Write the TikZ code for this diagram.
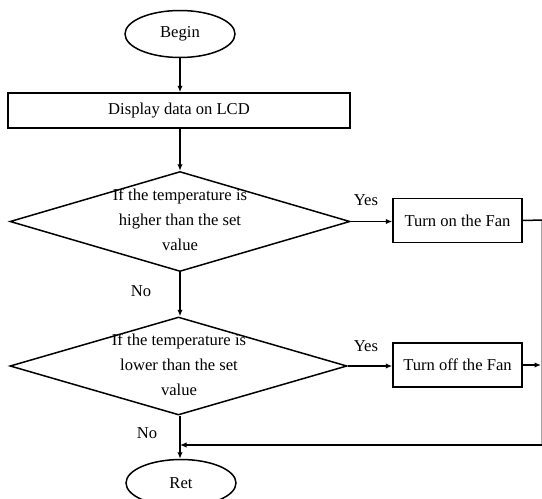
\documentclass[tikz,border=0pt]{standalone}
\usepackage{fontspec}
\setmainfont{Liberation Serif}
\usetikzlibrary{shapes.geometric,arrows.meta}
\begin{document}
\begin{tikzpicture}[x=1pt,y=-1pt,
  every node/.style={font=\fontsize{16.6}{25}\selectfont},
  line/.style={line width=1.5pt},
  arr/.style={line width=1.5pt,-{Latex[length=6.5pt,width=5.5pt]}},
  term/.style={ellipse,draw,line width=1.5pt,minimum width=110pt,minimum height=47pt,inner sep=0pt},
  proc/.style={rectangle,draw,line width=1.5pt,inner sep=0pt},
  dia/.style={diamond,draw,line width=1.5pt,inner sep=0pt,minimum width=340pt,minimum height=100pt},
  txt/.style={align=center,inner sep=0pt}]
\useasboundingbox (0,0) rectangle (542,499);

% terminals
\node[term] (begin) at (180,34) {Begin};
\node[term] (ret) at (181,483) {Ret};

% processing box
\node[proc,minimum width=342pt,minimum height=35pt] (lcd) at (179,110.5) {Display data on LCD};

% decisions
\node[dia] (d1) at (180,221.5) {};
\node[txt] (d1t) at (180,220) {If the temperature is\\higher than the set\\value};
\node[dia,minimum width=337pt,minimum height=98pt] (d2) at (178.5,366) {};
\node[txt] (d2t) at (179,365) {If the temperature is\\lower than the set\\value};

% fan actions
\node[proc,minimum width=129pt,minimum height=44pt] (fon) at (457.5,220.5) {Turn on the Fan};
\node[proc,minimum width=129pt,minimum height=44pt] (foff) at (457.5,365) {Turn off the Fan};

% branch labels
\node (y1) at (366,200) {Yes};
\node (n1) at (141,291) {No};
\node (y2) at (366,346) {Yes};
\node (n2) at (147,433) {No};

% right-hand return path
\coordinate (r1) at (542.4,220);
\coordinate (r2) at (541,365);
\coordinate (r3) at (542.4,445);
\coordinate (j) at (180,445);

% connectors
\draw[arr] (begin.south) -- (begin.south |- lcd.north);
\draw[arr] (lcd.south -| d1.north) -- (d1.north);
\draw[arr] (d1.east) -- (d1.east -| fon.west);
\draw[arr] (d1.south) -- (d1.south |- d2.north);
\draw[arr] (d2.east) -- (d2.east -| foff.west);
\draw[arr] (foff.east) -- (r2);
\draw[line] (fon.east) -- (r1) -- (r3);
\draw[arr] (r3) -- (j);
\draw[arr] (d2.south -| j) -- (ret.north -| j);
\end{tikzpicture}
\end{document}
